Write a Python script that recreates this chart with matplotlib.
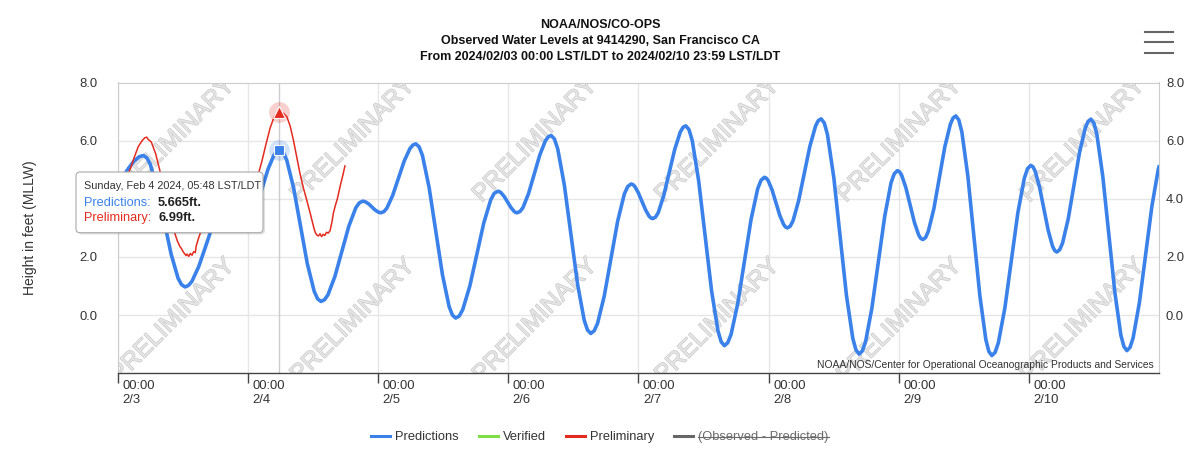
import matplotlib
matplotlib.use("Agg")
import matplotlib.pyplot as plt
import matplotlib.patheffects as pe
from matplotlib.lines import Line2D
from matplotlib.patches import FancyBboxPatch
from matplotlib.transforms import IdentityTransform, ScaledTranslation

plt.rcParams["font.family"] = ["Liberation Sans", "DejaVu Sans"]

# Hours since 2024/02/03 00:00 LST/LDT, predicted tide (ft, MLLW) -- one line per rise/fall
pred_hours = [0, 1, 2, 3, 4, 4.72,
              5.36, 6.0, 7.28, 8.57, 9.85, 11.13, 11.77, 12.41,
              13.04, 13.68, 14.94, 16.21, 17.47, 18.74, 19.37, 20.0,
              20.28, 20.55, 21.1, 21.65, 22.2, 22.75, 23.03, 23.3,
              23.85, 24.4, 25.5, 26.6, 27.7, 28.8, 29.35, 29.9,
              30.53, 31.17, 32.43, 33.70, 34.96, 36.23, 36.86, 37.49,
              38.13, 38.77, 40.05, 41.34, 42.62, 43.90, 44.54, 45.18,
              45.46, 45.74, 46.31, 46.87, 47.43, 48.0, 48.28, 48.56,
              49.09, 49.63, 50.69, 51.76, 52.83, 53.89, 54.43, 54.96,
              55.57, 56.19, 57.42, 58.65, 59.87, 61.10, 61.72, 62.33,
              62.98, 63.62, 64.91, 66.21, 67.50, 68.79, 69.43, 70.08,
              70.38, 70.68, 71.28, 71.89, 72.49, 73.09, 73.39, 73.69,
              74.21, 74.73, 75.76, 76.80, 77.84, 78.87, 79.39, 79.91,
              80.52, 81.13, 82.35, 83.57, 84.79, 86.01, 86.62, 87.23,
              87.85, 88.47, 89.71, 90.95, 92.18, 93.42, 94.04, 94.66,
              94.99, 95.33, 95.99, 96.66, 97.33, 97.99, 98.33, 98.66,
              99.17, 99.68, 100.69, 101.71, 102.72, 103.74, 104.24, 104.75,
              105.34, 105.94, 107.12, 108.31, 109.50, 110.68, 111.28, 111.87,
              112.48, 113.10, 114.33, 115.56, 116.78, 118.01, 118.63, 119.24,
              119.59, 119.95, 120.66, 121.37, 122.07, 122.78, 123.14, 123.49,
              124.01, 124.53, 125.56, 126.60, 127.63, 128.67, 129.18, 129.70,
              130.28, 130.87, 132.04, 133.21, 134.37, 135.54, 136.13, 136.71,
              137.30, 137.89, 139.06, 140.24, 141.42, 142.59, 143.18, 143.77,
              144.16, 144.55, 145.33, 146.12, 146.90, 147.68, 148.07, 148.46,
              148.97, 149.47, 150.49, 151.50, 152.51, 153.53, 154.03, 154.54,
              155.09, 155.65, 156.75, 157.86, 158.97, 160.07, 160.63, 161.18,
              161.78, 162.38, 163.58, 164.78, 165.97, 167.17, 167.77, 168.37,
              168.77, 169.17, 169.97, 170.77, 171.57, 172.37, 172.77, 173.17,
              173.69, 174.22, 175.26, 176.31, 177.35, 178.40, 178.92, 179.44,
              180.0, 180.55, 181.65, 182.76, 183.87, 184.97, 185.53, 186.08,
              186.66, 187.23, 188.39, 189.54, 190.69, 191.85, 192.0]
pred_ft = [4.45, 4.78, 5.05, 5.3, 5.45, 5.49,
           5.41, 5.19, 4.36, 3.23, 2.10, 1.27, 1.05, 0.97,
           1.02, 1.16, 1.67, 2.36, 3.06, 3.56, 3.70, 3.75,
           3.74, 3.70, 3.56, 3.375, 3.19, 3.05, 3.01, 3.0,
           3.05, 3.18, 3.67, 4.34, 5.01, 5.50, 5.63, 5.68,
           5.59, 5.33, 4.38, 3.075, 1.77, 0.82, 0.56, 0.47,
           0.53, 0.70, 1.33, 2.195, 3.06, 3.69, 3.86, 3.92,
           3.91, 3.89, 3.82, 3.72, 3.62, 3.55, 3.53, 3.52,
           3.56, 3.68, 4.11, 4.705, 5.30, 5.73, 5.85, 5.89,
           5.79, 5.49, 4.39, 2.90, 1.40, 0.30, 0.00, -0.10,
           -0.03, 0.19, 0.99, 2.08, 3.17, 3.97, 4.19, 4.26,
           4.25, 4.21, 4.075, 3.89, 3.705, 3.57, 3.53, 3.52,
           3.57, 3.70, 4.185, 4.85, 5.515, 6.00, 6.13, 6.18,
           6.06, 5.72, 4.48, 2.775, 1.07, -0.17, -0.51, -0.63,
           -0.54, -0.29, 0.655, 1.94, 3.225, 4.17, 4.42, 4.51,
           4.49, 4.43, 4.21, 3.915, 3.62, 3.40, 3.34, 3.32,
           3.37, 3.53, 4.12, 4.915, 5.71, 6.30, 6.46, 6.51,
           6.38, 6.00, 4.62, 2.73, 0.84, -0.54, -0.92, -1.05,
           -0.95, -0.66, 0.40, 1.845, 3.29, 4.35, 4.64, 4.74,
           4.71, 4.62, 4.305, 3.87, 3.435, 3.12, 3.03, 3.00,
           3.06, 3.25, 3.94, 4.875, 5.81, 6.50, 6.69, 6.75,
           6.61, 6.21, 4.73, 2.705, 0.68, -0.80, -1.20, -1.34,
           -1.23, -0.92, 0.24, 1.815, 3.39, 4.55, 4.86, 4.97,
           4.93, 4.81, 4.38, 3.785, 3.19, 2.76, 2.64, 2.60,
           2.67, 2.885, 3.66, 4.725, 5.79, 6.565, 6.78, 6.85,
           6.71, 6.30, 4.79, 2.73, 0.67, -0.84, -1.25, -1.39,
           -1.28, -0.95, 0.245, 1.88, 3.515, 4.71, 5.04, 5.15,
           5.10, 4.95, 4.405, 3.66, 2.915, 2.37, 2.22, 2.17,
           2.25, 2.48, 3.31, 4.455, 5.60, 6.43, 6.66, 6.74,
           6.60, 6.21, 4.75, 2.76, 0.77, -0.69, -1.08, -1.22,
           -1.11, -0.78, 0.435, 2.09, 3.745, 5.0, 5.1]

# Preliminary observed water level (ft, MLLW)
prelim_hours = [0, 1, 2, 2.4, 3, 3.8, 4.5, 5.0, 5.35, 5.6, 6.2, 7.0, 7.8, 8.6, 9.4, 10.2, 11.0, 11.5, 11.8,
                12.0, 12.3, 12.6, 12.8, 13.1, 13.4, 13.7, 14.0, 14.3, 14.5, 15.0, 15.5, 16.5, 17.5, 18.5,
                19.5, 20.5, 21.5, 22.5, 23.5, 24.5, 25.2, 25.9, 26.6, 27.3, 28.1, 28.8, 29.3, 29.8, 30.5,
                31.2, 31.8, 32.4, 33.0, 33.6, 34.2, 34.85, 35.5, 36.1, 36.4, 36.7, 37.0, 37.3, 37.6, 37.9,
                38.2, 38.5, 38.8, 39.15, 39.5, 39.76, 40.1, 40.5, 41.0, 41.5, 41.9]
prelim_ft = [4.3, 4.6, 4.9, 5.06, 5.4, 5.8, 6.0, 6.1, 6.12, 6.05, 5.95, 5.55, 4.95, 4.3, 3.6, 3.0, 2.55, 2.35,
             2.28, 2.2, 2.12, 2.05, 2.1, 2.02, 2.12, 2.06, 2.18, 2.15, 2.4, 2.7, 2.95, 3.45, 3.9, 4.3,
             4.55, 4.65, 4.55, 4.4, 4.35, 4.5, 4.65, 4.83, 5.3, 5.85, 6.43, 6.8, 6.93, 6.99, 6.95,
             6.82, 6.5, 6.02, 5.45, 4.88, 4.4, 3.96, 3.5, 3.05, 2.85, 2.76, 2.72, 2.8, 2.7, 2.78,
             2.74, 2.85, 2.82, 2.9, 3.2, 3.5, 3.75, 4.0, 4.42, 4.8, 5.13]

day_labels = ["00:00\n2/3", "00:00\n2/4", "00:00\n2/5", "00:00\n2/6",
              "00:00\n2/7", "00:00\n2/8", "00:00\n2/9", "00:00\n2/10"]
y_ticks = [0, 2, 4, 6, 8]

hover_hour = 29.8
hover_pred = 5.665
hover_prelim = 6.99

BLUE = "#3a82ea"
RED = "#e32b1f"
GREEN = "#7ddf45"
TXT = "#333333"

W, H = 1200, 458


def fx(x):
    return x / W


def fy(y):
    return 1 - y / H


fig = plt.figure(figsize=(W / 100, H / 100), dpi=100)
ax = fig.add_axes([fx(117.7), fy(373.3), (1159 - 117.7) / W, (373.3 - 82.5) / H])

ax.set_xlim(0, 192)
ax.set_ylim(-2, 8)
ax.set_xticks([24 * i for i in range(len(day_labels))])
ax.set_xticklabels([])
ax.set_yticks(y_ticks)
# the left 4.0 label sits under the tooltip
ax.set_yticklabels([f"{v:.1f}" if v != 4 else "" for v in y_ticks])
ax.grid(True, color="#e6e6e6", lw=1)
ax.set_axisbelow(True)
for side in ["left", "top", "right"]:
    ax.spines[side].set_color("#cccccc")
    ax.spines[side].set_linewidth(0.8)
ax.spines["bottom"].set_color("#444444")
ax.spines["bottom"].set_linewidth(1.0)
ax.tick_params(axis="x", direction="out", length=7.5, width=1, color="#444444")
ax.tick_params(axis="y", length=0, pad=14.5, labelsize=9.4, labelcolor=TXT)

ax_r = ax.twinx()
ax_r.set_ylim(-2, 8)
ax_r.set_yticks(y_ticks)
ax_r.set_yticklabels([f"{v:.1f}" for v in y_ticks])
ax_r.tick_params(axis="y", length=0, pad=5, labelsize=9.4, labelcolor=TXT)
for s in ax_r.spines.values():
    s.set_visible(False)

# x tick labels, left aligned next to each tick
offset = ScaledTranslation(4.6 / 100, -6.5 / 100, fig.dpi_scale_trans)
for i, lab in enumerate(day_labels):
    ax.text(24 * i, 0, lab, transform=ax.get_xaxis_transform() + offset, ha="left", va="top",
            fontsize=9.4, color=TXT, linespacing=1.25, clip_on=False)

# PRELIMINARY watermarks
for xf in [0.053, 0.226, 0.401, 0.576, 0.751, 0.927]:
    for yf in [0.80, 0.18]:
        ax.text(xf, yf, "PRELIMINARY", transform=ax.transAxes, rotation=45, ha="center", va="center",
                fontsize=17.5, color="#e4e4e4", zorder=1, clip_on=True,
                path_effects=[pe.withStroke(linewidth=0.9, foreground="#c9c9c9")])

# crosshair
ax.axvline(hover_hour, color="#cccccc", lw=1, zorder=2)

ax.plot(pred_hours, pred_ft, color=BLUE, lw=2.6, zorder=4, solid_joinstyle="round")
ax.plot(prelim_hours, prelim_ft, color=RED, lw=1.1, zorder=5)

# hover markers
ax.plot(hover_hour, hover_pred, "o", ms=15, color=BLUE, alpha=0.22, mec="none", zorder=6)
ax.plot(hover_hour, hover_pred, "s", ms=7.5, color=BLUE, mec="white", mew=0.8, zorder=7)
ax.plot(hover_hour, hover_prelim, "o", ms=15, color=RED, alpha=0.22, mec="none", zorder=6)
ax.plot(hover_hour, hover_prelim, "^", ms=8, color=RED, mec="white", mew=0.8, zorder=7)

ax.text(0.9945, 0.03, "NOAA/NOS/Center for Operational Oceanographic Products and Services",
        transform=ax.transAxes, ha="right", va="center", fontsize=7.4, color=TXT, zorder=8)

# titles
fig.text(0.5, fy(25), "NOAA/NOS/CO-OPS", ha="center", va="center", fontsize=9, weight="bold", color="#111")
fig.text(0.5, fy(41.5), "Observed Water Levels at 9414290, San Francisco CA", ha="center", va="center",
         fontsize=9, weight="bold", color="#111")
fig.text(0.5, fy(56.5), "From 2024/02/03 00:00 LST/LDT to 2024/02/10 23:59 LST/LDT", ha="center",
         va="center", fontsize=9, weight="bold", color="#111")

fig.text(fx(30), fy(228), "Height in feet (MLLW)", rotation=90, ha="center", va="center",
         fontsize=10, color=TXT)

# menu icon
for yy in [31.7, 42.3, 52.7]:
    fig.add_artist(Line2D([fx(1145), fx(1173)], [fy(yy), fy(yy)], color="#666666", lw=1.5))

# tooltip
shadow = FancyBboxPatch((78, H - 234.5), 187, 60.7, boxstyle="round,pad=0,rounding_size=4",
                        transform=IdentityTransform(), fc="black", ec="none", alpha=0.12, zorder=10)
box = FancyBboxPatch((76, H - 232.7), 187, 60.7, boxstyle="round,pad=0,rounding_size=4",
                     transform=IdentityTransform(), fc="white", ec="#aaaaaa", lw=0.8, zorder=11)
fig.add_artist(shadow)
fig.add_artist(box)
fig.text(fx(84), fy(186), "Sunday, Feb 4 2024, 05:48 LST/LDT", ha="left", va="center", fontsize=7.8,
         color=TXT, zorder=12)
fig.text(fx(84), fy(202.5), "Predictions:", ha="left", va="center", fontsize=9.2, color=BLUE, zorder=12)
fig.text(fx(157.5), fy(202.5), f"{hover_pred:.3f}ft.", ha="left", va="center", fontsize=9.2,
         weight="bold", color="#222", zorder=12)
fig.text(fx(84), fy(218), "Preliminary:", ha="left", va="center", fontsize=9.2, color=RED, zorder=12)
fig.text(fx(158.5), fy(218), f"{hover_prelim:.2f}ft.", ha="left", va="center", fontsize=9.2,
         weight="bold", color="#222", zorder=12)

# legend
handles = [Line2D([], [], color=BLUE, lw=2.2), Line2D([], [], color=GREEN, lw=2.2),
           Line2D([], [], color=RED, lw=2.2), Line2D([], [], color="#666666", lw=2.2)]
labels = ["Predictions", "Verified", "Preliminary", "(Observed - Predicted)"]
leg = fig.legend(handles, labels, loc="center", bbox_to_anchor=(0.5, fy(437)), ncol=4, frameon=False,
                 fontsize=9.3, handlelength=1.45, handletextpad=0.4, columnspacing=1.55)
for t in leg.get_texts():
    t.set_color(TXT)
leg.get_texts()[3].set_color("#6b6b6b")

fig.canvas.draw()
bb = leg.get_texts()[3].get_window_extent()
ymid = (bb.y0 + bb.y1) / 2
inv = fig.transFigure.inverted()
(x0, y0), (x1, y1) = inv.transform([(bb.x0, ymid), (bb.x1, ymid)])
fig.add_artist(Line2D([x0, x1], [y0, y1], color="#6b6b6b", lw=0.8))

fig.savefig("out.png", dpi=100)
